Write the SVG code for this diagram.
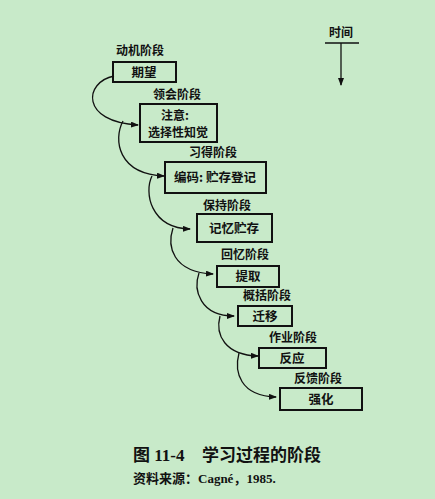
<svg xmlns="http://www.w3.org/2000/svg" width="435" height="499" viewBox="0 0 435 499">
<defs>
<marker id="ah" markerWidth="8" markerHeight="6" refX="7" refY="3" orient="auto" markerUnits="userSpaceOnUse">
<path d="M0,0 L8,3 L0,6 Z" fill="#111"/>
</marker>
<style>
.box{fill:none;stroke:#111;stroke-width:2}
.lbl{font-family:"Noto Sans CJK SC","Noto Sans",sans-serif;font-size:12px;font-weight:bold;fill:#111;text-anchor:middle}
.in{font-family:"Noto Sans CJK SC","Noto Sans",sans-serif;font-size:12.5px;font-weight:bold;fill:#111;text-anchor:middle}
.con{fill:none;stroke:#111;stroke-width:1.3;marker-end:url(#ah)}
</style>
</defs>
<rect width="435" height="499" fill="#c8eac9"/>
<g id="time">
<text class="lbl" x="341" y="37">时间</text>
<line x1="325" y1="43" x2="359" y2="43" stroke="#111" stroke-width="1.5"/>
<line x1="341" y1="43" x2="341" y2="85" stroke="#111" stroke-width="1.3" marker-end="url(#ah)"/>
</g>
<g id="n1"><text class="lbl" x="140" y="55">动机阶段</text><rect class="box" x="113" y="62" width="63" height="20"/><text class="in" x="144" y="77">期望</text></g>
<g id="n2"><text class="lbl" x="177" y="99">领会阶段</text><rect class="box" x="140" y="104" width="77" height="38"/><text class="in" x="175" y="120" style="font-size:12px">注意:</text><text class="in" x="178" y="137" style="font-size:12px">选择性知觉</text></g>
<g id="n3"><text class="lbl" x="213" y="157">习得阶段</text><rect class="box" x="165" y="162" width="101" height="31"/><text class="in" x="215" y="182">编码: 贮存登记</text></g>
<g id="n4"><text class="lbl" x="227" y="210">保持阶段</text><rect class="box" x="197" y="214" width="75" height="28"/><text class="in" x="234" y="233">记忆贮存</text></g>
<g id="n5"><text class="lbl" x="245" y="259">回忆阶段</text><rect class="box" x="217" y="266" width="62" height="21"/><text class="in" x="248" y="281">提取</text></g>
<g id="n6"><text class="lbl" x="267" y="300">概括阶段</text><rect class="box" x="238" y="306" width="54" height="20"/><text class="in" x="265" y="321">迁移</text></g>
<g id="n7"><text class="lbl" x="293" y="342">作业阶段</text><rect class="box" x="259" y="348" width="67" height="20"/><text class="in" x="292" y="363">反应</text></g>
<g id="n8"><text class="lbl" x="318" y="383">反馈阶段</text><rect class="box" x="280" y="388" width="82" height="22"/><text class="in" x="321" y="404">强化</text></g>
<g id="connectors">
<path class="con" d="M114,76 C84,82 80,122 138,125"/>
<path class="con" d="M123,121 C113,140 118,174 164,176"/>
<path class="con" d="M152,176 C144,192 150,228 190,229"/>
<path class="con" d="M173,228 C167,246 172,272 213,274"/>
<path class="con" d="M199,273 C193,290 200,316 234,316"/>
<path class="con" d="M220,316 C215,335 225,355 258,356"/>
<path class="con" d="M239,353 C234,372 240,396 276,397"/>
</g>
<g id="caption">
<text x="133" y="461" font-family="'Liberation Serif','Noto Sans CJK SC',serif" font-size="17" font-weight="bold" fill="#111">图 11-4</text>
<text x="202" y="461" font-family="'Liberation Serif','Noto Sans CJK SC',serif" font-size="17" font-weight="bold" fill="#111">学习过程的阶段</text>
<text x="133" y="483" font-family="'Liberation Serif','Noto Sans CJK SC',serif" font-size="13" font-weight="bold" fill="#111">资料来源：Cagné，1985.</text>
</g>
</svg>
